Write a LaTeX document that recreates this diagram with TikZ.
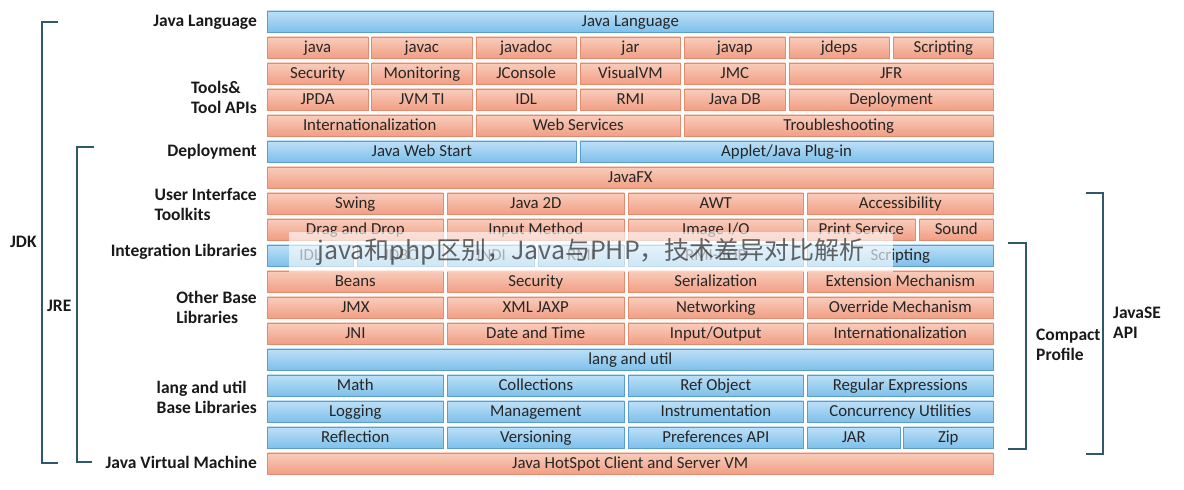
\documentclass[tikz,border=0pt]{standalone}
\usepackage{fontspec}
\setmainfont{Carlito}
\newfontfamily\cjkmark{Noto Sans CJK SC}
\usetikzlibrary{positioning}

\definecolor{bluetop}{HTML}{BDE0F7}
\definecolor{bluebot}{HTML}{7EBFEA}
\definecolor{blueline}{HTML}{5B9CD1}
\definecolor{orgtop}{HTML}{F9CDBC}
\definecolor{orgbot}{HTML}{F19E84}
\definecolor{orgline}{HTML}{E58A6E}
\definecolor{brk}{HTML}{2F5868}

\begin{document}
\begin{tikzpicture}[x=1pt,y=-1pt]

  \tikzstyle{cell}=[anchor=north west,inner sep=0pt,minimum height=21.5pt,line width=0.6pt,
                    text height=12pt,text depth=3pt,
                    font=\fontsize{16.8}{18}\selectfont,text=black!85]
  \tikzstyle{bluecell}=[cell,draw=blueline,top color=bluetop,bottom color=bluebot]
  \tikzstyle{orgcell}=[cell,draw=orgline,top color=orgtop,bottom color=orgbot]
  \tikzstyle{layer}=[anchor=east,align=left,inner sep=0pt,font=\bfseries\fontsize{17.5}{20}\selectfont,text=black!90]
  \tikzstyle{group}=[anchor=west,align=left,inner sep=0pt,font=\bfseries\fontsize{17.5}{20}\selectfont,text=black!90]
  \tikzstyle{bracket}=[draw=brk,line width=1.4pt]

  \useasboundingbox (0,0) rectangle (1184,490);

  % Java Language
  \node [bluecell,minimum width=726pt] (lang) at (267,10.5) {Java Language};

  % Tools & Tool APIs
  \foreach \t [count=\c] in {java,javac,javadoc,jar,javap,jdeps,Scripting}
    \node [orgcell,minimum width=100.5pt] (tool\c) at ({267+104.3*(\c-1)},36.5) {\t};
  \foreach \t [count=\c] in {Security,Monitoring,JConsole,VisualVM,JMC}
    \node [orgcell,minimum width=100.5pt] (mon\c) at ({267+104.3*(\c-1)},62.5) {\t};
  \node [orgcell,minimum width=204.8pt] (jfr) at (788.5,62.5) {JFR};
  \foreach \t [count=\c] in {JPDA,JVM TI,IDL,RMI,Java DB}
    \node [orgcell,minimum width=100.5pt] (api\c) at ({267+104.3*(\c-1)},88.5) {\t};
  \node [orgcell,minimum width=204.8pt] (deploytool) at (788.5,88.5) {Deployment};
  \node [orgcell,minimum width=204.8pt] (intl) at (267,114.5) {Internationalization};
  \node [orgcell,minimum width=204.8pt] (websvc) at (475.6,114.5) {Web Services};
  \node [orgcell,minimum width=309.1pt] (trouble) at (683.9,114.5) {Troubleshooting};

  % Deployment
  \node [bluecell,minimum width=309.1pt] (webstart) at (267,140.5) {Java Web Start};
  \node [bluecell,minimum width=413.4pt] (applet) at (579.6,140.5) {Applet/Java Plug-in};

  % User Interface Toolkits
  \node [orgcell,minimum width=726pt] (javafx) at (267,166.5) {JavaFX};
  \node [orgcell,minimum width=176pt] (swing) at (267,192.5) {Swing};
  \node [orgcell,minimum width=177pt] (java2d) at (447,192.5) {Java 2D};
  \node [orgcell,minimum width=175pt] (awt) at (628,192.5) {AWT};
  \node [orgcell,minimum width=186pt] (access) at (807,192.5) {Accessibility};
  \node [orgcell,minimum width=176pt] (dnd) at (267,218.5) {Drag and Drop};
  \node [orgcell,minimum width=177pt] (input) at (447,218.5) {Input Method};
  \node [orgcell,minimum width=175pt] (imageio) at (628,218.5) {Image I/O};
  \node [orgcell,minimum width=108pt] (print) at (807,218.5) {Print Service};
  \node [orgcell,minimum width=74pt] (sound) at (919,218.5) {Sound};

  % Integration Libraries
  \node [bluecell,minimum width=86pt] (idl) at (267,244.5) {IDL};
  \node [bluecell,minimum width=86pt] (jdbc) at (357,244.5) {JDBC};
  \node [bluecell,minimum width=86.5pt] (jndi) at (447,244.5) {JNDI};
  \node [bluecell,minimum width=86.5pt] (rmi) at (537.5,244.5) {RMI};
  \node [bluecell,minimum width=175pt] (iiop) at (628,244.5) {RMI-IIOP};
  \node [bluecell,minimum width=186pt] (script) at (807,244.5) {Scripting};

  % Other Base Libraries
  \node [orgcell,minimum width=176pt] (beans) at (267,270.5) {Beans};
  \node [orgcell,minimum width=177pt] (sec) at (447,270.5) {Security};
  \node [orgcell,minimum width=175pt] (serial) at (628,270.5) {Serialization};
  \node [orgcell,minimum width=186pt] (ext) at (807,270.5) {Extension Mechanism};
  \node [orgcell,minimum width=176pt] (jmx) at (267,296.5) {JMX};
  \node [orgcell,minimum width=177pt] (jaxp) at (447,296.5) {XML JAXP};
  \node [orgcell,minimum width=175pt] (net) at (628,296.5) {Networking};
  \node [orgcell,minimum width=186pt] (override) at (807,296.5) {Override Mechanism};
  \node [orgcell,minimum width=176pt] (jni) at (267,322.5) {JNI};
  \node [orgcell,minimum width=177pt] (date) at (447,322.5) {Date and Time};
  \node [orgcell,minimum width=175pt] (io) at (628,322.5) {Input/Output};
  \node [orgcell,minimum width=186pt] (intl2) at (807,322.5) {Internationalization};

  % lang and util Base Libraries
  \node [bluecell,minimum width=726pt] (langutil) at (267,348.5) {lang and util};
  \node [bluecell,minimum width=176pt] (math) at (267,374.5) {Math};
  \node [bluecell,minimum width=177pt] (coll) at (447,374.5) {Collections};
  \node [bluecell,minimum width=175pt] (ref) at (628,374.5) {Ref Object};
  \node [bluecell,minimum width=186pt] (regex) at (807,374.5) {Regular Expressions};
  \node [bluecell,minimum width=176pt] (log) at (267,400.5) {Logging};
  \node [bluecell,minimum width=177pt] (mgmt) at (447,400.5) {Management};
  \node [bluecell,minimum width=175pt] (instr) at (628,400.5) {Instrumentation};
  \node [bluecell,minimum width=186pt] (conc) at (807,400.5) {Concurrency Utilities};
  \node [bluecell,minimum width=176pt] (refl) at (267,426.5) {Reflection};
  \node [bluecell,minimum width=177pt] (ver) at (447,426.5) {Versioning};
  \node [bluecell,minimum width=175pt] (pref) at (628,426.5) {Preferences API};
  \node [bluecell,minimum width=93pt] (jar) at (807,426.5) {JAR};
  \node [bluecell,minimum width=90pt] (zip) at (903,426.5) {Zip};

  % Java Virtual Machine
  \node [orgcell,minimum width=726pt] (hotspot) at (267,452.5) {Java HotSpot Client and Server VM};

  % layer labels
  \node [layer] (l-lang)   at (257,22)  {Java Language};
  \node [layer] (l-tools)  at (257,97)  {Tools\&\\Tool APIs};
  \node [layer] (l-deploy) at (257,152) {Deployment};
  \node [layer] (l-ui)     at (257,204) {User Interface\\Toolkits};
  \node [layer] (l-integ)  at (257,252) {Integration Libraries};
  \node [layer] (l-other)  at (257,307) {Other Base\\Libraries};
  \node [layer] (l-base)   at (257,397) {lang and util\\Base Libraries};
  \node [layer] (l-jvm)    at (257,462) {Java Virtual Machine};

  % brackets
  \coordinate (jdk-a) at (58,22);   \coordinate (jdk-b) at (58,463);
  \coordinate (jre-a) at (94,147);  \coordinate (jre-b) at (92,462);
  \coordinate (cp-a) at (1008,243); \coordinate (cp-b) at (1008,449);
  \coordinate (se-a) at (1086,193); \coordinate (se-b) at (1086,454);
  \draw [bracket] (jdk-a) -- (42,22) -- (42,463) -- (jdk-b);
  \draw [bracket] (jre-a) -- (77,147) -- (77,462) -- (jre-b);
  \draw [bracket] (cp-a) -- (1026,243) -- (1026,449) -- (cp-b);
  \draw [bracket] (se-a) -- (1103,193) -- (1103,454) -- (se-b);

  \node [group] (jdk) at (10,242) {JDK};
  \node [group] (jre) at (47,306) {JRE};
  \node [group] (compact) at (1036,345) {Compact\\Profile};
  \node [group] (javase) at (1113,323) {JavaSE\\API};

  % watermark
  \node [anchor=north west,inner sep=0pt,minimum width=604pt,minimum height=40pt,
         fill=white,fill opacity=0.62,text opacity=0.75,text=black!80,
         font=\cjkmark\fontsize{25}{28}\selectfont] (mark) at (289,232)
        {java和php区别，Java与PHP，技术差异对比解析};

\end{tikzpicture}
\end{document}
